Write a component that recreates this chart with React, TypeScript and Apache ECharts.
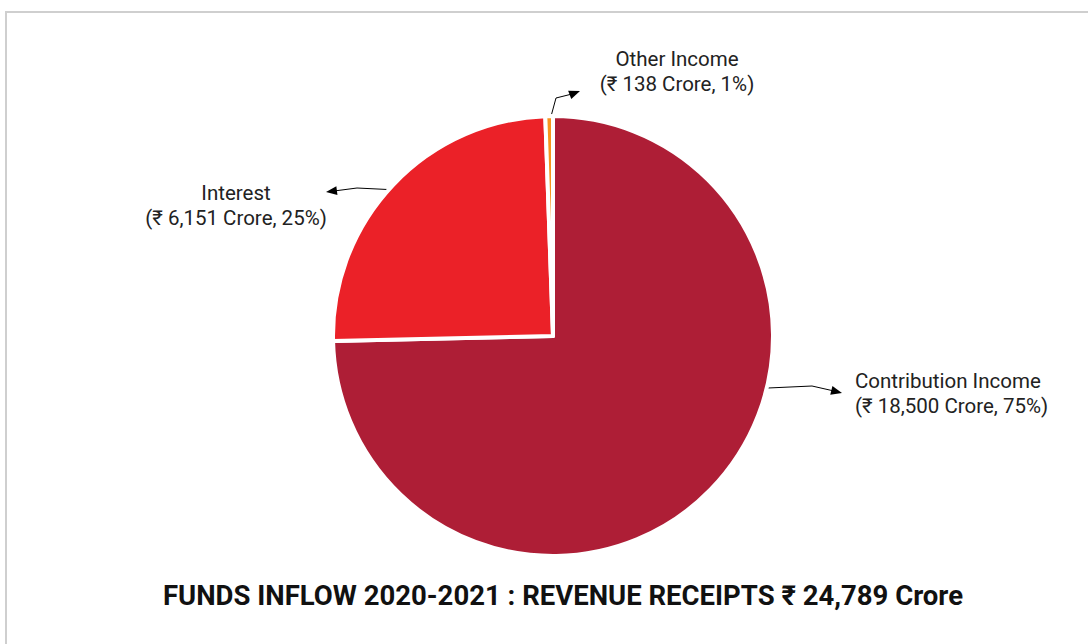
import React, { useEffect, useRef } from "react";
import * as echarts from "echarts";

const categories = ["Contribution Income", "Interest", "Other Income"];
const values = [18500, 6151, 138];
const colors = ["#AE1E36", "#EB2128", "#F7941D"];
const titleText = "FUNDS INFLOW 2020-2021 : REVENUE RECEIPTS ₹ 24,789 Crore";

// label anchor positions (annotation layout)
const labelPos = [
  { x: 855, y: 393, align: "left", line: [[768, 388], [812, 386], [834, 391]], tip: [842, 393] },
  { x: 236, y: 205, align: "center", line: [[398, 190], [357, 188], [334, 191]], tip: [326, 192] },
  { x: 677, y: 71, align: "center", line: [[550, 120], [556, 98], [572, 94]], tip: [580, 91] },
];

function arrowHead(from: number[], tip: number[]) {
  const dx = tip[0] - from[0];
  const dy = tip[1] - from[1];
  const len = Math.sqrt(dx * dx + dy * dy) || 1;
  const ux = dx / len;
  const uy = dy / len;
  const L = 11;
  const W = 4.5;
  const bx = tip[0] - ux * L;
  const by = tip[1] - uy * L;
  return [
    [tip[0], tip[1]],
    [bx - uy * W, by + ux * W],
    [bx + uy * W, by - ux * W],
  ];
}

export default function App() {
  const ref = useRef<HTMLDivElement>(null);
  useEffect(() => {
    document.body.style.margin = "0";
    if (!ref.current) return;
    const chart = echarts.init(ref.current, undefined, { renderer: "svg" });
    const total = values.reduce((a, b) => a + b, 0);
    const data = categories.map((name, i) => ({
      name,
      value: values[i],
      itemStyle: { color: colors[i] },
    }));
    const arrows = labelPos.map((p) => ({
      type: "polygon",
      shape: { points: arrowHead(p.line[p.line.length - 1], p.tip) },
      style: { fill: "#000" },
      z: 100,
    }));
    chart.setOption({
      animation: false,
      backgroundColor: "#fff",
      title: {
        text: titleText,
        left: 558,
        top: 576,
        textAlign: "center",
        textStyle: {
          fontFamily: "Roboto",
          fontWeight: "bold",
          fontSize: 27.5,
          color: "#111",
        },
      },
      graphic: [
        {
          type: "rect",
          shape: { x: 6, y: 12, width: 1100, height: 700 },
          style: { fill: "none", stroke: "#cfcfcf", lineWidth: 2 },
          silent: true,
        },
        ...arrows,
      ],
      series: [
        {
          type: "pie",
          center: [553, 336],
          radius: 220,
          startAngle: 90,
          clockwise: true,
          selectedMode: false,
          itemStyle: { borderColor: "#fff", borderWidth: 4 },
          data,
          label: {
            show: true,
            fontFamily: "Roboto",
            fontSize: 20.5,
            lineHeight: 25,
            color: "#222",
            formatter: (p: any) =>
              `${p.name}\n(₹ ${Number(p.value).toLocaleString("en-US")} Crore, ${Math.round(
                (p.value / total) * 100
              )}%)`,
          },
          labelLine: {
            show: true,
            lineStyle: { color: "#000", width: 1 },
          },
          labelLayout: (params: any) => {
            const p = labelPos[params.dataIndex];
            return {
              x: p.x,
              y: p.y,
              align: p.align,
              verticalAlign: "middle",
              labelLinePoints: p.line,
            };
          },
          emphasis: { disabled: true },
        },
      ],
    });
    return () => chart.dispose();
  }, []);
  return <div ref={ref} style={{ width: 1088, height: 644 }} />;
}
